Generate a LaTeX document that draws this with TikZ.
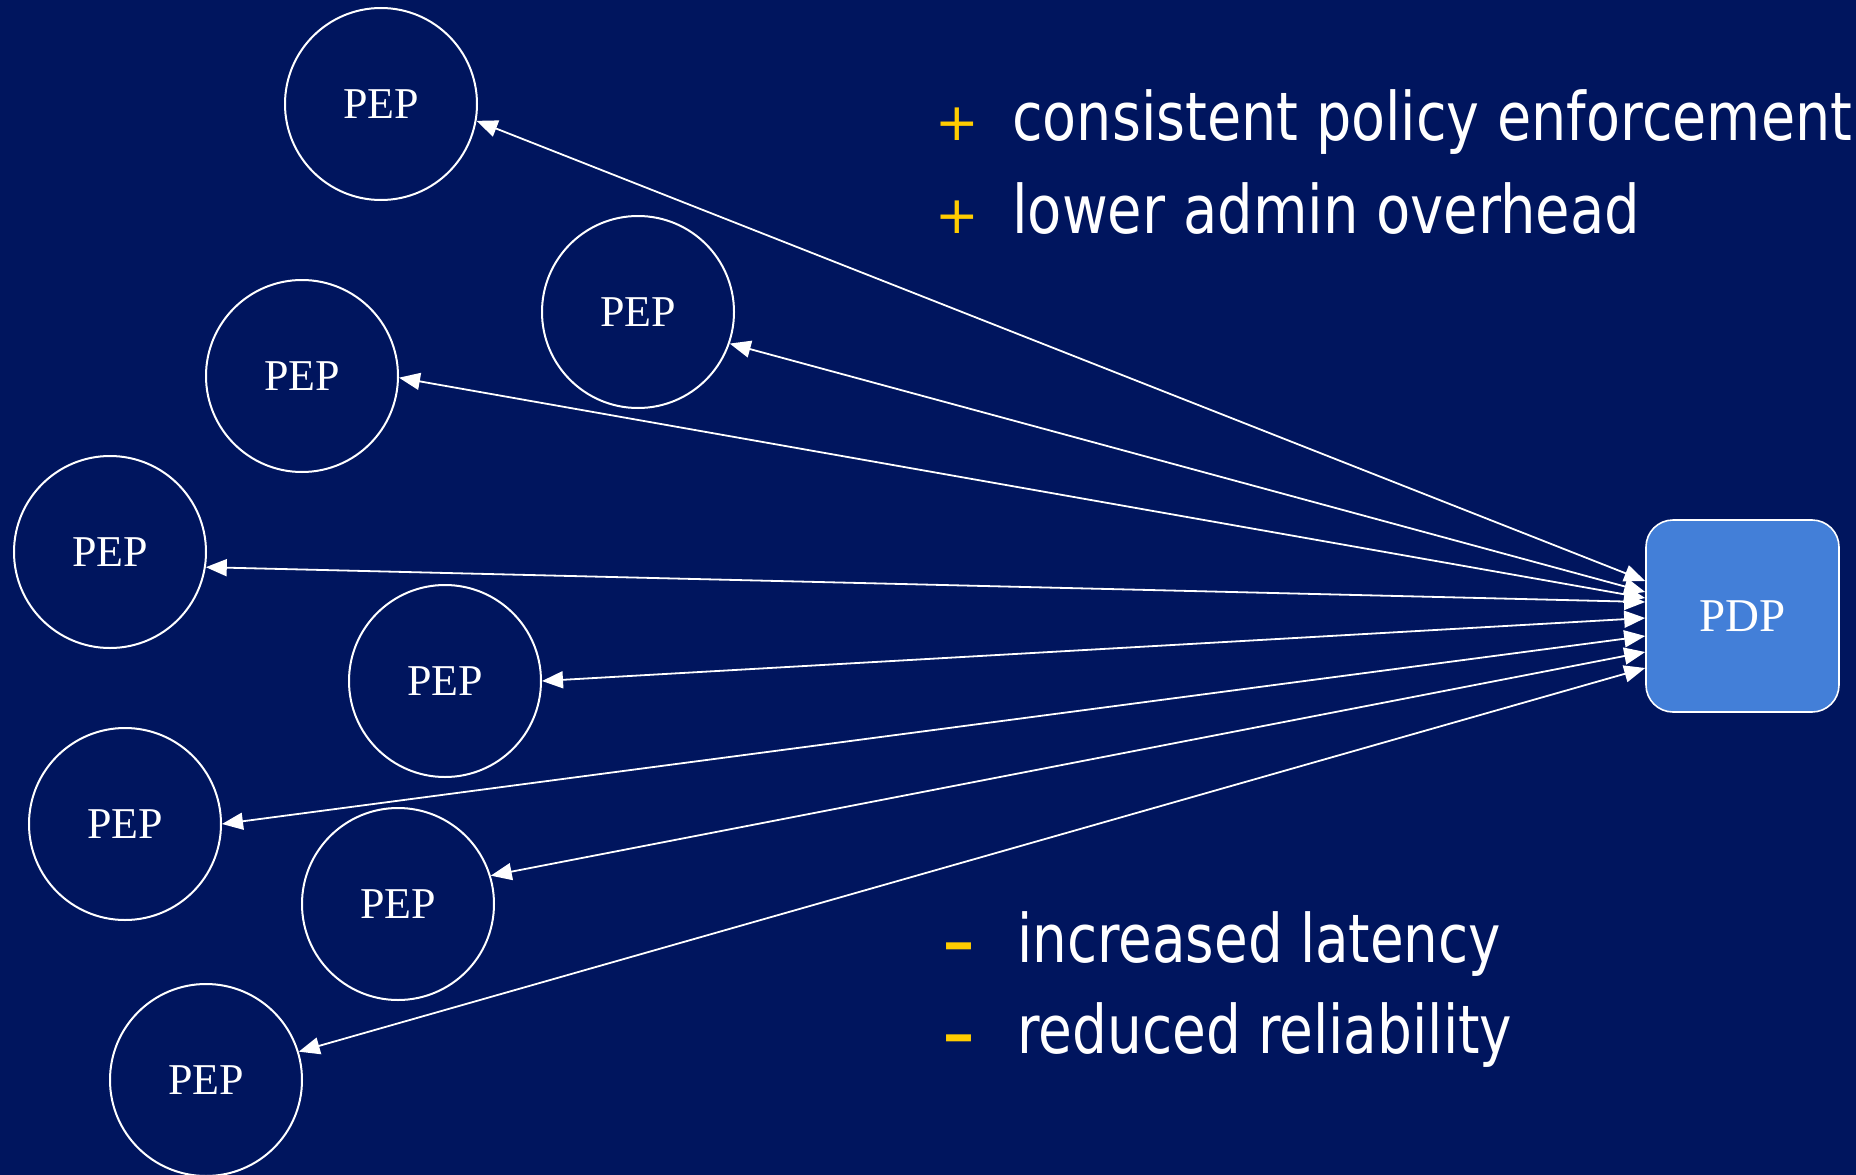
\documentclass[tikz,border=0pt]{standalone}
\usepackage{fontspec}
\usepackage{graphicx}
\usetikzlibrary{arrows.meta}
\newfontfamily\serifface{Liberation Serif}
\newfontfamily\listface{DejaVu Sans}
\definecolor{bgnavy}{HTML}{00155E}
\definecolor{pdpblue}{HTML}{437FD8}
\definecolor{signyellow}{HTML}{FFCC00}
\tikzset{
  pep/.style={circle, draw=white, line width=2pt, minimum size=192pt, inner sep=0pt,
              text=white, font=\serifface\fontsize{44}{50}\selectfont},
  pdpbox/.style={rectangle, rounded corners=27pt, draw=white, line width=1.6pt, fill=pdpblue,
                 minimum width=193pt, minimum height=192pt, inner sep=0pt,
                 text=white, font=\serifface\fontsize{47}{54}\selectfont},
  link/.style={white, line width=1.8pt, {Triangle[length=21pt,width=17pt]}-{Triangle[length=21pt,width=17pt]}},
  item/.style={anchor=base west, inner sep=0pt, text=white, font=\listface\fontsize{67}{80}\selectfont},
  sign/.style={anchor=center, inner sep=0pt, text=signyellow},
  dashsign/.style={anchor=base west, inner sep=0pt, text=signyellow, font=\listface\fontsize{62}{70}\selectfont}
}
\begin{document}
\begin{tikzpicture}[x=1pt, y=-1pt]
  % canvas
  \fill[bgnavy] (0,0) rectangle (1856,1175);
  \useasboundingbox (0,0) rectangle (1856,1175);

  % enforcement points
  \node[pep] (pep1) at (381,104) {PEP};
  \node[pep] (pep2) at (638,312) {PEP};
  \node[pep] (pep3) at (302,376) {PEP};
  \node[pep] (pep4) at (110,552) {PEP};
  \node[pep] (pep5) at (445,681) {PEP};
  \node[pep] (pep6) at (125,824) {PEP};
  \node[pep] (pep7) at (398,904) {PEP};
  \node[pep] (pep8) at (206,1080) {PEP};

  % decision point
  \node[pdpbox] (pdp) at (1742.5,616) {PDP};

  % where the links meet the decision point
  \coordinate (in1) at (pdp.west |- 0,581);
  \coordinate (in2) at (pdp.west |- 0,592);
  \coordinate (in3) at (pdp.west |- 0,598);
  \coordinate (in4) at (pdp.west |- 0,602);
  \coordinate (in5) at (pdp.west |- 0,618);
  \coordinate (in6) at (pdp.west |- 0,636);
  \coordinate (in7) at (pdp.west |- 0,652);
  \coordinate (in8) at (pdp.west |- 0,668);

  % links
  \draw[link] (pep1.-10) -- (in1);
  \draw[link] (pep2.-19) -- (in2);
  \draw[link] (pep3.-1.5) -- (in3);
  \draw[link] (pep4.-9.5) -- (in4);
  \draw[link] (pep5.0) -- (in5);
  \draw[link] (pep6.0.5) -- (in6);
  \draw[link] (pep7.17) -- (in7);
  \draw[link] (pep8.17) -- (in8);

  % pros
  \node[sign, font=\listface\fontsize{52}{60}\selectfont] (plus1) at (957,124) {+};
  \node[sign, font=\listface\fontsize{52}{60}\selectfont] (plus2) at (957,217) {+};
  \node[item] (pro1) at (1012,140) {\resizebox{840pt}{\height}{consistent policy enforcement}};
  \node[item] (pro2) at (1012,233) {\resizebox{628pt}{\height}{lower admin overhead}};

  % cons (thickened en dashes, raised so the bar sits at mid x-height)
  \node[dashsign] (minus1) at (943,973) {\scalebox{1}[1.6]{–}};
  \node[dashsign] (minus2) at (943,1065) {\scalebox{1}[1.6]{–}};
  \node[item] (con1) at (1017,962) {\resizebox{484pt}{\height}{increased latency}};
  \node[item] (con2) at (1017,1053) {\resizebox{495pt}{\height}{reduced reliability}};
\end{tikzpicture}
\end{document}
